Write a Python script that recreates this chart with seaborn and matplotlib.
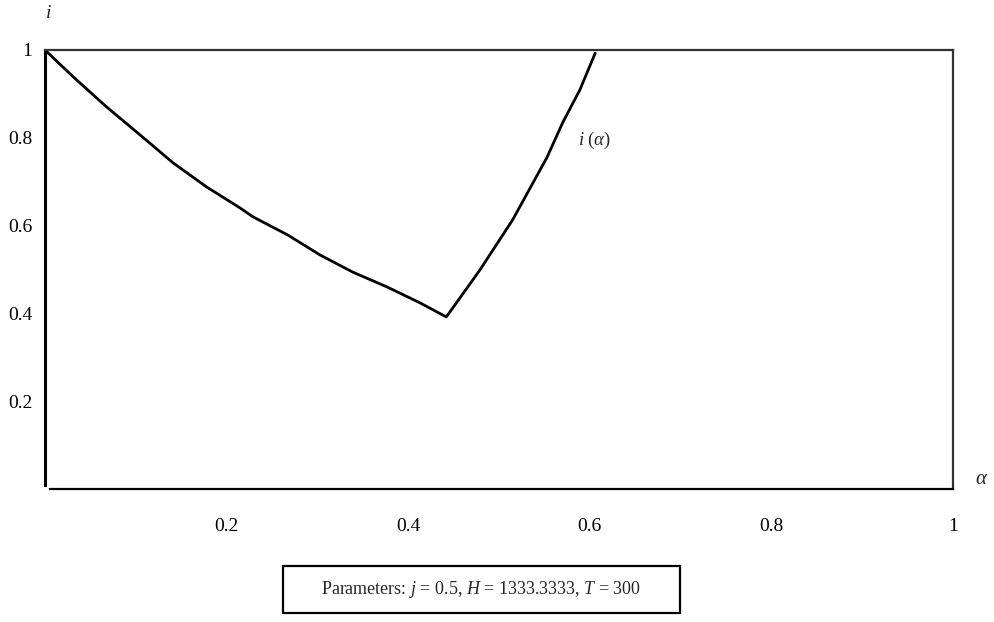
import matplotlib
matplotlib.use("Agg")
import matplotlib.pyplot as plt
import seaborn as sns
import pandas as pd
from matplotlib.patches import Rectangle

# Data
alpha = [0.0, 0.031, 0.068, 0.105, 0.141, 0.178, 0.215, 0.229, 0.267, 0.303,
         0.339, 0.377, 0.413, 0.442, 0.479, 0.515, 0.553, 0.570, 0.589, 0.606]
i_vals = [1.0, 0.939, 0.870, 0.806, 0.743, 0.688, 0.640, 0.620, 0.579, 0.533,
          0.494, 0.460, 0.424, 0.392, 0.499, 0.613, 0.756, 0.834, 0.909, 0.993]
x_ticks = [0.2, 0.4, 0.6, 0.8, 1.0]
x_ticklabels = ["0.2", "0.4", "0.6", "0.8", "1"]
y_ticks = [0.2, 0.4, 0.6, 0.8, 1.0]
y_ticklabels = ["0.2", "0.4", "0.6", "0.8", "1"]

sns.set_style("white")
plt.rcParams["font.family"] = ["Liberation Serif", "DejaVu Serif"]
plt.rcParams["mathtext.fontset"] = "custom"
plt.rcParams["mathtext.rm"] = "Liberation Serif"
plt.rcParams["mathtext.it"] = "Liberation Serif:italic"

df = pd.DataFrame({"alpha": alpha, "i": i_vals})

fig = plt.figure(figsize=(9.95, 6.22), dpi=100)
ax = fig.add_axes([45 / 995, 1 - 489 / 622, (953 - 45) / 995, (489 - 50) / 622])
sns.lineplot(data=df, x="alpha", y="i", sort=False, ax=ax, color="black",
             linewidth=2.0, estimator=None)
ax.lines[0].set_solid_joinstyle("round")

ax.set_xlim(0, 1)
ax.set_ylim(0, 1)
ax.set_xticks(x_ticks)
ax.set_xticklabels(x_ticklabels)
ax.set_yticks(y_ticks)
ax.set_yticklabels(y_ticklabels)
ax.set_xlabel("")
ax.set_ylabel("")
ax.tick_params(axis="x", direction="inout", length=6, width=1.2, pad=18,
               labelsize=14, colors="black")
ax.tick_params(axis="y", direction="inout", length=6, width=1.2, pad=6,
               labelsize=14, colors="black")
for s in ["top", "right"]:
    ax.spines[s].set_color("#333333")
    ax.spines[s].set_linewidth(1.6)
ax.spines["left"].set_color("black")
ax.spines["left"].set_linewidth(2.2)
ax.spines["left"].set_bounds(0.01, 1)
ax.spines["bottom"].set_color("black")
ax.spines["bottom"].set_linewidth(1.6)
ax.spines["bottom"].set_bounds(0.005, 1)

ax.text(0.587, 0.795, r"$i\ (\alpha)$", fontsize=13.5, ha="left", va="center")

fig.text(48 / 995, 1 - 13 / 622, r"$i$", fontsize=14, ha="center", va="center")
fig.text(982 / 995, 1 - 480 / 622, r"$\alpha$", fontsize=15, ha="center", va="center")

rect = Rectangle((283 / 995, 1 - 613 / 622), (680 - 283) / 995, 47 / 622,
                 transform=fig.transFigure, fill=False, edgecolor="black",
                 linewidth=1.6)
fig.patches.append(rect)
fig.text((283 + 680) / 2 / 995, 1 - 590 / 622,
         r"Parameters: $j$ = 0.5, $H$ = 1333.3333, $T$ = 300",
         fontsize=13, ha="center", va="center")

fig.savefig("out.png", dpi=100)
